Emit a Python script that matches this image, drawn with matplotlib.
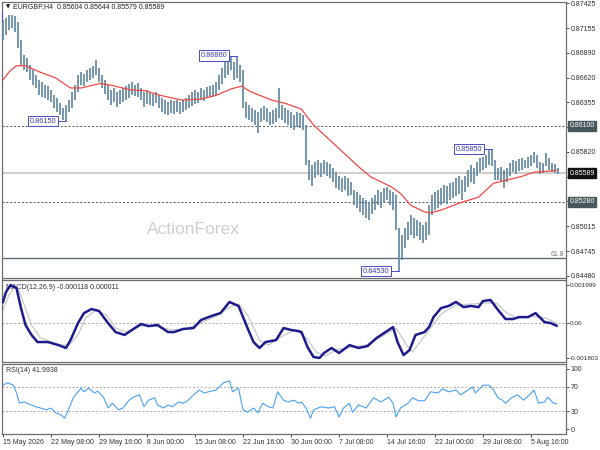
import numpy as np
import matplotlib
matplotlib.use("Agg")
import matplotlib.pyplot as plt
import matplotlib.transforms as mtrans

plt.rcParams['font.family'] = ['Liberation Sans', 'DejaVu Sans']

# EURGBP H4, one entry per two H4 bars (high / low)
highs = [
    0.8724, 0.8727, 0.8730, 0.8730, 0.8729, 0.8722, 0.8703, 0.8687, 0.8683, 0.8676,
    0.8670, 0.8665, 0.8660, 0.8657, 0.8654, 0.8653, 0.8649, 0.8643, 0.8640, 0.8635,
    0.8629, 0.8633, 0.8638, 0.8647, 0.8654, 0.8665, 0.8668, 0.8666, 0.8670, 0.8673,
    0.8675, 0.8681, 0.8673, 0.8665, 0.8660, 0.8654, 0.8649, 0.8651, 0.8647, 0.8649,
    0.8651, 0.8653, 0.8655, 0.8657, 0.8654, 0.8656, 0.8651, 0.8647, 0.8649, 0.8646,
    0.8645, 0.8647, 0.8643, 0.8640, 0.8638, 0.8636, 0.8638, 0.8637, 0.8638, 0.8636,
    0.8638, 0.8640, 0.8643, 0.8647, 0.8649, 0.8647, 0.8651, 0.8649, 0.8652, 0.8653,
    0.8654, 0.8657, 0.8665, 0.8673, 0.8679, 0.8683, 0.8684, 0.8679, 0.8686, 0.8676,
    0.8670, 0.8636, 0.8633, 0.8629, 0.8627, 0.8625, 0.8629, 0.8632, 0.8629, 0.8625,
    0.8627, 0.8629, 0.8651, 0.8633, 0.8629, 0.8627, 0.8625, 0.8622, 0.8625, 0.8624,
    0.8622, 0.8611, 0.8573, 0.8568, 0.8571, 0.8573, 0.8570, 0.8573, 0.8571, 0.8569,
    0.8565, 0.8560, 0.8556, 0.8554, 0.8556, 0.8554, 0.8549, 0.8541, 0.8539, 0.8535,
    0.8532, 0.8530, 0.8528, 0.8532, 0.8535, 0.8541, 0.8539, 0.8543, 0.8544, 0.8541,
    0.8539, 0.8535, 0.8500, 0.8492, 0.8500, 0.8506, 0.8514, 0.8510, 0.8508, 0.8506,
    0.8503, 0.8506, 0.8525, 0.8535, 0.8539, 0.8541, 0.8543, 0.8546, 0.8545, 0.8548,
    0.8549, 0.8554, 0.8556, 0.8552, 0.8556, 0.8562, 0.8568, 0.8565, 0.8571, 0.8575,
    0.8576, 0.8579, 0.8584, 0.8585, 0.8573, 0.8565, 0.8566, 0.8562, 0.8565, 0.8570,
    0.8573, 0.8572, 0.8574, 0.8575, 0.8573, 0.8576, 0.8579, 0.8582, 0.8579, 0.8571,
    0.8570, 0.8581, 0.8575, 0.8570, 0.8569, 0.8564]
lows = [
    0.8703, 0.8708, 0.8714, 0.8716, 0.8712, 0.8694, 0.8676, 0.8670, 0.8668, 0.8660,
    0.8654, 0.8651, 0.8643, 0.8641, 0.8640, 0.8638, 0.8636, 0.8629, 0.8625, 0.8622,
    0.8616, 0.8615, 0.8625, 0.8629, 0.8638, 0.8647, 0.8654, 0.8653, 0.8657, 0.8660,
    0.8662, 0.8665, 0.8657, 0.8651, 0.8645, 0.8638, 0.8633, 0.8636, 0.8630, 0.8634,
    0.8636, 0.8638, 0.8640, 0.8643, 0.8642, 0.8641, 0.8638, 0.8630, 0.8634, 0.8633,
    0.8632, 0.8635, 0.8629, 0.8625, 0.8623, 0.8622, 0.8624, 0.8623, 0.8625, 0.8623,
    0.8625, 0.8627, 0.8629, 0.8632, 0.8634, 0.8635, 0.8638, 0.8637, 0.8640, 0.8641,
    0.8642, 0.8643, 0.8649, 0.8655, 0.8662, 0.8665, 0.8670, 0.8660, 0.8662, 0.8657,
    0.8629, 0.8619, 0.8616, 0.8614, 0.8611, 0.8602, 0.8614, 0.8616, 0.8614, 0.8611,
    0.8612, 0.8614, 0.8619, 0.8616, 0.8613, 0.8611, 0.8608, 0.8606, 0.8609, 0.8608,
    0.8606, 0.8568, 0.8552, 0.8545, 0.8554, 0.8557, 0.8555, 0.8558, 0.8556, 0.8554,
    0.8549, 0.8543, 0.8541, 0.8539, 0.8541, 0.8534, 0.8535, 0.8525, 0.8521, 0.8517,
    0.8514, 0.8510, 0.8508, 0.8515, 0.8519, 0.8525, 0.8521, 0.8527, 0.8530, 0.8525,
    0.8519, 0.8498, 0.8453, 0.8465, 0.8478, 0.8487, 0.8492, 0.8489, 0.8491, 0.8487,
    0.8483, 0.8487, 0.8492, 0.8514, 0.8519, 0.8521, 0.8525, 0.8527, 0.8526, 0.8530,
    0.8532, 0.8534, 0.8536, 0.8530, 0.8539, 0.8544, 0.8549, 0.8547, 0.8556, 0.8560,
    0.8562, 0.8565, 0.8568, 0.8567, 0.8552, 0.8552, 0.8549, 0.8543, 0.8549, 0.8556,
    0.8560, 0.8558, 0.8561, 0.8562, 0.8565, 0.8565, 0.8567, 0.8570, 0.8565, 0.8558,
    0.8559, 0.8567, 0.8562, 0.8560, 0.8559, 0.8558]

# moving average (red), bar index / price
ma_x = [0, 5, 9, 15, 25, 35, 45, 52, 65, 72, 85, 95, 105, 119, 132, 142, 152, 159,
        165, 179, 189, 199, 207, 225, 237, 245, 259, 265, 272, 281, 285, 292, 305,
        317, 327, 337, 345, 354, 363, 369]
ma_y = [0.8660, 0.8670, 0.8675, 0.8675, 0.8668, 0.8662, 0.8651, 0.8651, 0.8656,
        0.8654, 0.8649, 0.8648, 0.8643, 0.8638, 0.8639, 0.8643, 0.8650, 0.8653,
        0.8647, 0.8638, 0.8634, 0.8628, 0.8611, 0.8584, 0.8566, 0.8555, 0.8544,
        0.8537, 0.8524, 0.8517, 0.8516, 0.8519, 0.8527, 0.8533, 0.8548, 0.8552,
        0.8555, 0.8560, 0.8561, 0.8562]

# MACD main line
macd_x = [0, 2, 5, 9, 12, 15, 19, 23, 30, 37, 42, 45, 50, 54, 59, 64, 70, 75, 81,
          87, 92, 97, 103, 110, 114, 120, 127, 132, 139, 145, 151, 157, 163, 167,
          171, 175, 182, 187, 192, 197, 199, 203, 207, 211, 214, 219, 224, 231, 237,
          243, 249, 254, 260, 263, 267, 271, 275, 281, 284, 287, 292, 297, 302, 307,
          312, 317, 320, 325, 330, 335, 340, 344, 350, 355, 361, 365, 369]
macd_y = [0.00112, 0.00164, 0.00200, 0.00184, 0.00080, -0.00008, -0.00060, -0.00097,
          -0.00097, -0.00113, -0.00128, -0.00087, 0.00002, 0.00054, 0.00075, 0.00065,
          0.00002, -0.00045, -0.00060, -0.00029, -0.00003, -0.00014, -0.00008,
          -0.00045, -0.00045, -0.00029, -0.00024, 0.00018, 0.00039, 0.00054, 0.00112,
          0.00091, -0.00024, -0.00097, -0.00128, -0.00097, -0.00087, -0.00024,
          -0.00034, -0.00040, -0.00045, -0.00123, -0.00175, -0.00180, -0.00154,
          -0.00128, -0.00154, -0.00113, -0.00128, -0.00118, -0.00076, -0.00050,
          -0.00019, -0.00097, -0.00165, -0.00139, -0.00060, -0.00045, -0.00019,
          0.00033, 0.00080, 0.00091, 0.00112, 0.00085, 0.00091, 0.00085, 0.00117,
          0.00122, 0.00070, 0.00023, 0.00023, 0.00033, 0.00033, 0.00054, 0.00007,
          0.00002, -0.000118]

# MACD signal line
sig_x = [0, 4, 9, 13, 19, 25, 32, 39, 44, 50, 55, 62, 69, 75, 82, 89, 95, 105, 112,
         122, 132, 142, 151, 157, 163, 171, 177, 185, 195, 202, 209, 215, 222, 232,
         242, 252, 262, 269, 273, 279, 285, 292, 302, 312, 322, 329, 335, 342, 352,
         362, 369]
sig_y = [0.00070, 0.00148, 0.00200, 0.00122, -0.00008, -0.00076, -0.00097, -0.00113,
         -0.00113, -0.00060, 0.00028, 0.00070, 0.00044, -0.00024, -0.00045, -0.00019,
         -0.00008, -0.00019, -0.00034, -0.00029, 0.00002, 0.00039, 0.00085, 0.00101,
         0.00044, -0.00087, -0.00113, -0.00071, -0.00034, -0.00076, -0.00149,
         -0.00170, -0.00139, -0.00123, -0.00113, -0.00071, -0.00024, -0.00113,
         -0.00149, -0.00087, -0.00024, 0.00049, 0.00096, 0.00101, 0.00106, 0.00106,
         0.00059, 0.00028, 0.00039, 0.00028, 0.000011]

# RSI(14)
rsi_x = [0, 3, 7, 9, 11, 14, 19, 22, 25, 29, 32, 35, 39, 41, 43, 47, 50, 52, 54, 57,
         61, 63, 67, 70, 73, 77, 80, 84, 87, 91, 94, 97, 101, 103, 107, 110, 113, 117,
         120, 123, 127, 131, 134, 137, 142, 147, 151, 153, 157, 160, 163, 167, 170,
         173, 177, 180, 183, 187, 190, 194, 197, 199, 202, 205, 207, 212, 217, 221,
         224, 227, 231, 233, 237, 242, 247, 252, 257, 260, 262, 265, 270, 273, 277,
         281, 285, 290, 293, 297, 302, 305, 310, 313, 315, 320, 324, 327, 330, 333,
         335, 339, 343, 347, 351, 354, 357, 361, 363, 367, 369]
rsi_y = [73, 77, 73, 60, 43, 45, 40, 37, 35, 32, 35, 27, 23, 18, 28, 53, 62, 68, 62,
         68, 60, 63, 53, 35, 43, 32, 35, 48, 53, 57, 37, 48, 52, 40, 35, 40, 37, 45,
         43, 47, 57, 65, 60, 62, 65, 77, 80, 62, 68, 32, 28, 35, 27, 43, 37, 35, 62,
         48, 45, 48, 43, 45, 35, 18, 32, 37, 35, 37, 20, 35, 43, 28, 40, 35, 52, 45,
         53, 43, 20, 35, 43, 52, 47, 47, 62, 60, 67, 62, 65, 57, 65, 70, 60, 73, 73,
         65, 52, 48, 43, 52, 57, 48, 57, 65, 43, 45, 53, 43, 41.9938]

# swing labels: bar index, price
swings = [(42, 0.86150), (156, 0.86860), (264, 0.84530), (326, 0.85850)]

price_ticks = [0.87425, 0.87155, 0.86890, 0.86620, 0.86355, 0.86085, 0.85820,
               0.85550, 0.85285, 0.85015, 0.84745, 0.84480]
hidden_ticks = [0.86085, 0.85550, 0.85285]   # covered by the level boxes
level_lines = [0.86100, 0.85280]
last_price = 0.85589
fibo_618 = 0.84675

date_bars = [0, 32, 64, 96, 128, 160, 192, 224, 256, 288, 320, 352]
date_labels = ['15 May 2026', '22 May 08:00', '29 May 16:00', '8 Jun 00:00',
               '15 Jun 08:00', '22 Jun 16:00', '30 Jun 00:00', '7 Jul 08:00',
               '14 Jul 16:00', '22 Jul 00:00', '29 Jul 08:00', '5 Aug 16:00']

BAR_COLOR = '#6389a2'
FRAME = '#6e6e6e'
TXT = '#303030'


def px_rect(l, t, r, b):
    return [l / 600, 1 - b / 450, (r - l) / 600, (b - t) / 450]


fig = plt.figure(figsize=(6, 4.5), dpi=100)
ax = fig.add_axes(px_rect(1.5, 1.5, 566, 278))
axm = fig.add_axes(px_rect(1.5, 279.5, 566, 362))
axr = fig.add_axes(px_rect(1.5, 364, 566, 434))

for a in (ax, axm, axr):
    a.set_xlim(-1, 375.3)
    for s in a.spines.values():
        s.set_color(FRAME)
        s.set_linewidth(0.9)
    a.yaxis.tick_right()
    a.tick_params(axis='y', labelsize=5, length=2, width=0.6, pad=1.2,
                  colors=TXT)
    a.set_xticks([])

# ---- price panel
ax.set_ylim(0.84456, 0.87445)
bar_x = np.arange(len(highs)) * 2
ax.vlines(bar_x, lows, highs, color=BAR_COLOR, lw=1.25, zorder=3)
ax.plot(ma_x, ma_y, color='#f04848', lw=0.9, zorder=4)
for lv in level_lines:
    ax.axhline(lv, color='#555555', ls=(0, (2, 2)), lw=0.7, zorder=1)
ax.axhline(last_price, color='#c9c9c9', lw=1.3, zorder=1)
ax.axhline(fibo_618, color='#5b7078', lw=1.0, zorder=1)

ax.set_yticks(price_ticks)
ax.set_yticklabels(['' if v in hidden_ticks else f'{v:.5f}' for v in price_ticks])

trans = mtrans.blended_transform_factory(ax.transAxes, ax.transData)
for price, bg in [(level_lines[0], '#47585c'), (last_price, '#111111'),
                  (level_lines[1], '#47585c')]:
    ax.text(1.006, price, f'{price:.5f}', transform=trans, fontsize=5,
            color='white', va='center', ha='left', clip_on=False,
            bbox=dict(boxstyle='square,pad=0.25', fc=bg, ec=bg))
ax.text(0.997, fibo_618, '61.8', transform=trans, ha='right', va='bottom',
        fontsize=5, color='#7a7a7a')

for bx, price in swings:
    ax.plot([bx - 5.3, bx], [price, price], color='#4b4bc8', lw=0.7, zorder=5)
    ax.text(bx - 6.4, price, f'{price:.5f}', fontsize=5.3, color='#3c3cb4',
            ha='right', va='center', zorder=6,
            bbox=dict(boxstyle='square,pad=0.22', fc='white', ec='#4b4bc8',
                      lw=0.7))
ax.text(-1.6, 0.87290, '0.87290', fontsize=5.3, color='#3c3cb4', ha='right',
        va='center', clip_on=True, zorder=6,
        bbox=dict(boxstyle='square,pad=0.22', fc='white', ec='#4b4bc8', lw=0.7))

fig.text(6 / 600, 1 - 7 / 450, '\u25bc', fontsize=4, color='#222222',
         va='center', family=['DejaVu Sans'])
fig.text(13 / 600, 1 - 7 / 450, 'EURGBP,H4  0.85604 0.85644 0.85579 0.85589',
         fontsize=5, color='#222222', va='center')
fig.text(193 / 600, 1 - 230 / 450, 'ActionForex', fontsize=12.5,
         color='#cfcfcf', ha='center', va='center')

# ---- MACD panel
axm.set_ylim(-0.00201, 0.00229)
axm.axhline(0, color='#aaaaaa', ls=(0, (2, 2)), lw=0.7)
axm.text(5 / 564.5, 0.00186, 'MACD(12,26,9) -0.000118 0.000011', fontsize=5,
         color=TXT, va='center', transform=mtrans.blended_transform_factory(
             axm.transAxes, axm.transData), zorder=1)
axm.plot(sig_x, sig_y, color='#c8c8c8', lw=0.9, zorder=2)
axm.plot(macd_x, macd_y, color='#1c1c8c', lw=1.8, zorder=3)
axm.set_yticks([0.001999, 0.0, -0.001803])
axm.set_yticklabels(['0.001999', '0.00', '-0.001803'])
axm.tick_params(axis='y', labelsize=4.6, pad=1.0)

# ---- RSI panel
axr.set_ylim(-8.3, 108.3)
for lv in (70, 30):
    axr.axhline(lv, color='#aaaaaa', ls=(0, (2, 2)), lw=0.7)
axr.plot(rsi_x, rsi_y, color='#4aa0f2', lw=0.8)
axr.text(5 / 564.5, 97, 'RSI(14) 41.9938', fontsize=5, color=TXT, va='center',
         transform=mtrans.blended_transform_factory(axr.transAxes, axr.transData))
axr.set_yticks([100, 70, 30, 0])
axr.set_yticklabels(['100', '70', '30', '0'])

axr.set_xticks(date_bars)
axr.set_xticklabels(date_labels)
axr.tick_params(axis='x', labelsize=5, length=2, width=0.6, pad=1.5,
                colors=TXT)
for lbl in axr.get_xticklabels():
    lbl.set_horizontalalignment('left')

fig.savefig('out.png', dpi=100)
